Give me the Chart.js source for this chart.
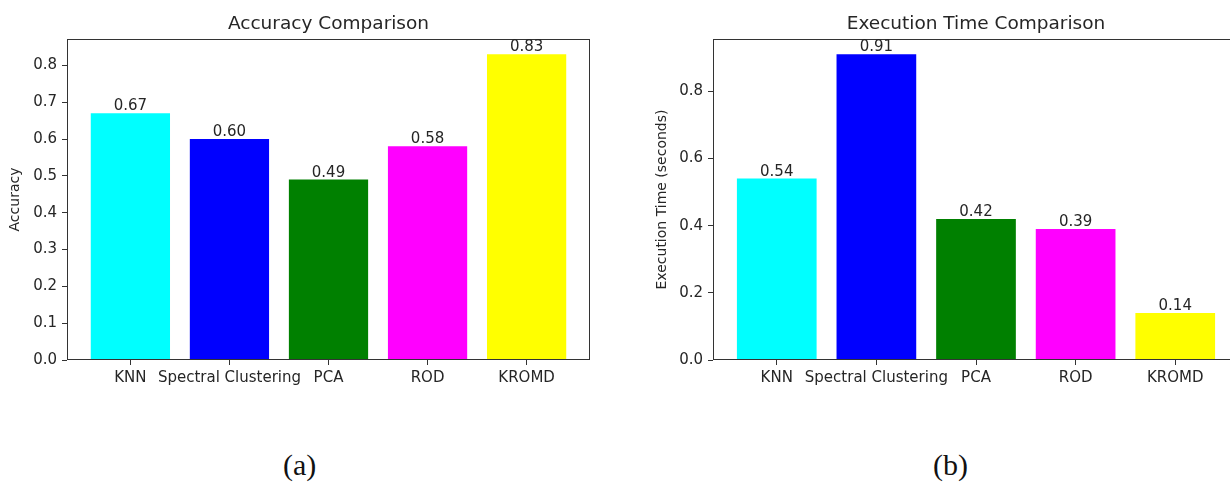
<!DOCTYPE html>
<html><head><meta charset="utf-8">
<script src="https://cdn.jsdelivr.net/npm/chart.js@4/dist/chart.umd.min.js"></script>
<style>
html,body{margin:0;padding:0;background:#fff;overflow:hidden;width:1230px;height:483px;}
#wrap{position:relative;width:1230px;height:483px;overflow:hidden;background:#fff;}
.box{position:absolute;top:0;}
#b1{left:0;width:620px;height:400px;}
#b2{left:620px;width:640px;height:400px;}
.cap{position:absolute;font-family:"Liberation Serif","Times New Roman",serif;font-size:30px;color:#111;top:450px;line-height:30px;}
</style></head><body>
<div id="wrap">
<div class="box" id="b1"><canvas id="c1" width="620" height="400"></canvas></div>
<div class="box" id="b2"><canvas id="c2" width="640" height="400"></canvas></div>
<div class="cap" style="left:283px">(a)</div>
<div class="cap" style="left:933px">(b)</div>
</div>
<script>
const categories = ['KNN', 'Spectral Clustering', 'PCA', 'ROD', 'KROMD'];
const barColors = ['#00ffff', '#0000ff', '#008000', '#ff00ff', '#ffff00'];
const accuracy = [0.67, 0.60, 0.49, 0.58, 0.83];
const execTime = [0.54, 0.91, 0.42, 0.39, 0.14];
const accTicks = [0.0, 0.1, 0.2, 0.3, 0.4, 0.5, 0.6, 0.7, 0.8];
const timeTicks = [0.0, 0.2, 0.4, 0.6, 0.8];

const FONT = '"DejaVu Sans", sans-serif';
const INK = '#262626';

const framePlugin = {
  id: 'frame',
  afterDatasetsDraw(chart) {
    const a = chart.chartArea, ctx = chart.ctx;
    ctx.save();
    ctx.strokeStyle = '#333';
    ctx.lineWidth = 1;
    ctx.strokeRect(Math.round(a.left) + 0.5, Math.round(a.top) + 0.5,
                   Math.round(a.right - a.left) - 1, Math.round(a.bottom - a.top) - 1);
    ctx.restore();
  }
};

const valueLabels = {
  id: 'valueLabels',
  afterDatasetsDraw(chart) {
    const ctx = chart.ctx, meta = chart.getDatasetMeta(0);
    const ds = chart.data.datasets[0].data;
    ctx.save();
    ctx.font = '15px ' + FONT;
    ctx.fillStyle = INK;
    ctx.textAlign = 'center';
    ctx.textBaseline = 'alphabetic';
    meta.data.forEach((el, i) => ctx.fillText(ds[i].y.toFixed(2), el.x, el.y - 3));
    ctx.restore();
  }
};

function makeChart(id, title, yTitle, values, yTicks, yMax, yWidth, padRight, yTitlePad, decimals) {
  return new Chart(document.getElementById(id), {
    type: 'bar',
    data: {
      datasets: [{
        data: values.map((v, i) => ({ x: i, y: v })),
        backgroundColor: barColors,
        borderWidth: 0,
        barPercentage: 0.8,
        categoryPercentage: 1.0
      }]
    },
    options: {
      responsive: false,
      animation: false,
      devicePixelRatio: 1,
      layout: { padding: { left: 0, right: padRight, top: 0, bottom: 0 } },
      plugins: {
        legend: { display: false },
        tooltip: { enabled: false },
        title: {
          display: true, text: title, color: INK, fullSize: false,
          font: { family: FONT, size: 18.5, weight: 'normal', lineHeight: 1.2 },
          padding: { top: 13, bottom: 39 - 13 - 22.2 }
        }
      },
      scales: {
        x: {
          type: 'linear', offset: false,
          min: -0.64, max: 4.64,
          afterBuildTicks: s => { s.ticks = categories.map((_, i) => ({ value: i })); },
          afterFit: s => { s.height = 40; },
          ticks: {
            autoSkip: false, maxRotation: 0, minRotation: 0, padding: 4,
            color: INK, font: { family: FONT, size: 15 },
            callback: v => categories[v]
          },
          grid: { offset: false, drawOnChartArea: false, drawTicks: true, tickLength: 5, color: '#333', tickWidth: 1 },
          border: { display: false }
        },
        y: {
          type: 'linear', min: 0, max: yMax,
          afterBuildTicks: s => { s.ticks = yTicks.map(v => ({ value: v })); },
          afterFit: s => { s.width = yWidth; },
          ticks: {
            padding: 5, color: INK, font: { family: FONT, size: 15 },
            callback: v => Number(v).toFixed(decimals)
          },
          grid: { drawOnChartArea: false, drawTicks: true, tickLength: 5, color: '#333', tickWidth: 1 },
          border: { display: false },
          title: {
            display: true, text: yTitle, color: INK,
            font: { family: FONT, size: 14 }, padding: { top: yTitlePad, bottom: 0 }
          }
        }
      }
    },
    plugins: [framePlugin, valueLabels]
  });
}

makeChart('c1', 'Accuracy Comparison', 'Accuracy', accuracy, accTicks, 0.8715, 67, 30, 7, 1);
makeChart('c2', 'Execution Time Comparison', 'Execution Time (seconds)', execTime, timeTicks, 0.9555, 93, 21, 34, 1);
</script>
</body></html>
